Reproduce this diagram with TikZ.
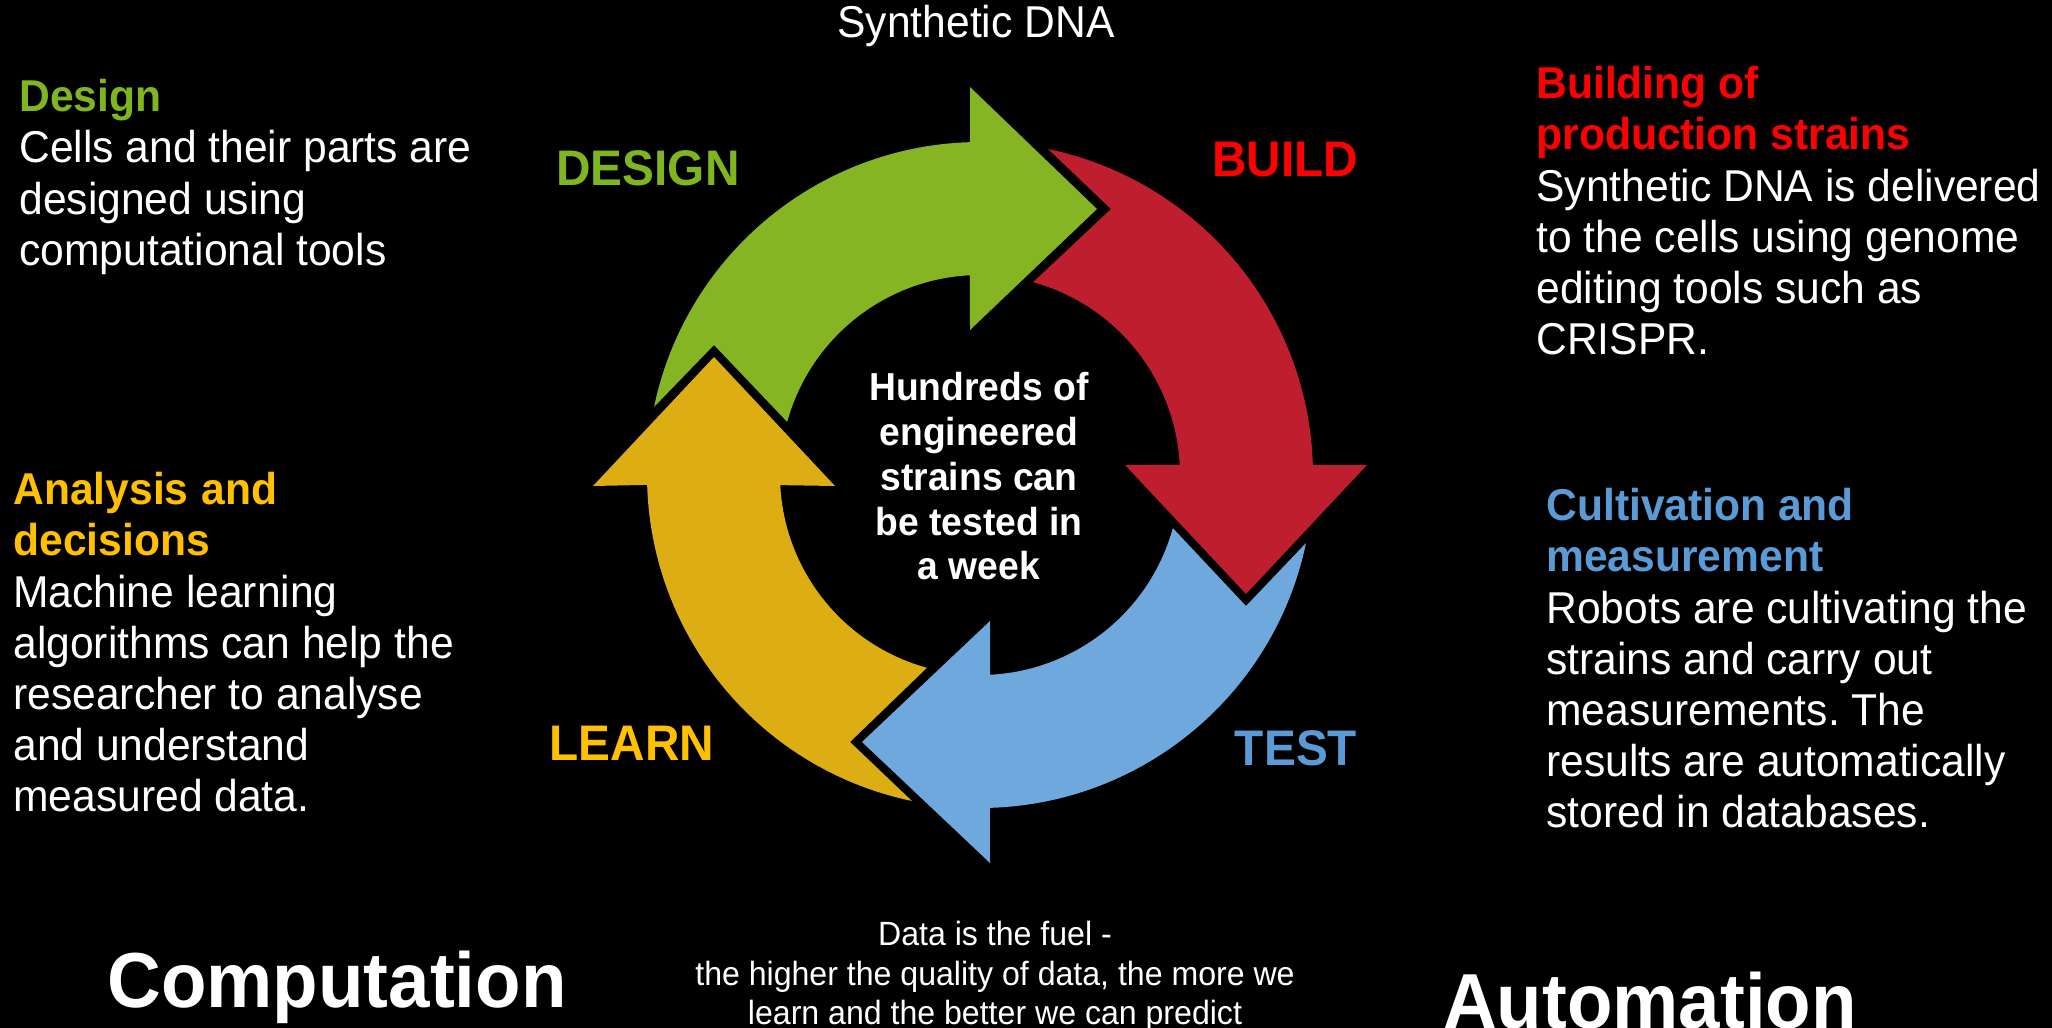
\documentclass[tikz,border=0pt]{standalone}
\usepackage{fontspec}
\setmainfont[FakeStretch=0.955]{Liberation Sans}
\definecolor{cgreen}{HTML}{85B522}
\definecolor{cred}{HTML}{BE1E2D}
\definecolor{cblue}{HTML}{6FA8DC}
\definecolor{cyellow}{HTML}{DDAE14}
\definecolor{tgreen}{HTML}{7FB51F}
\definecolor{tred}{HTML}{FF0000}
\definecolor{tblue}{HTML}{5B9BD5}
\definecolor{tyellow}{HTML}{FFC000}
\tikzset{
  body/.style={inner sep=0pt,anchor=north west,align=left,text=white,font=\fontsize{22.3}{25.6}\selectfont},
  cyc/.style={inner sep=0pt,anchor=center,font=\fontsize{25}{29}\selectfont\bfseries},
  big/.style={inner sep=0pt,anchor=center,text=white,font=\fontsize{39}{45}\selectfont\bfseries},
  mid/.style={inner sep=0pt,anchor=north,align=center,text=white}
}
\newcommand{\hd}[2]{{\color{#1}\bfseries #2}}
\begin{document}
\frenchspacing
\begin{tikzpicture}[x=0.5pt,y=-0.5pt]
\useasboundingbox (0,0) rectangle (2052,1028);
\clip (0,0) rectangle (2052,1028);
\fill[black] (0,0) rectangle (2052,1028);
\coordinate (c) at (980,475);
% arrows
\fill[cgreen] ([shift={(c)}]168.2:166.5pt) arc[start angle=168.2,end angle=91.7,radius=166.5pt]
  -- (970,87) -- (1097,209) -- (970,330) -- ([shift={(c)}]92.9:100pt)
  arc[start angle=92.9,end angle=164.6,radius=100pt] -- (714,345) -- cycle;
\fill[cred] ([shift={(c)}]78.2:166.5pt) arc[start angle=78.2,end angle=1.7,radius=166.5pt]
  -- (1367,465) -- (1246,594) -- (1125,465) -- ([shift={(c)}]2.9:100pt)
  arc[start angle=2.9,end angle=74.6,radius=100pt] -- (1111,209) -- cycle;
\fill[cblue] ([shift={(c)}]-11.8:166.5pt) arc[start angle=-11.8,end angle=-88.3,radius=166.5pt]
  -- (990,863) -- (862,742) -- (990,621) -- ([shift={(c)}]-87.1:100pt)
  arc[start angle=-87.1,end angle=-15.4,radius=100pt] -- (1246,606) -- cycle;
\fill[cyellow] ([shift={(c)}]-101.8:166.5pt) arc[start angle=-101.8,end angle=-178.3,radius=166.5pt]
  -- (593,486) -- (714,357) -- (835,486) -- ([shift={(c)}]-177.1:100pt)
  arc[start angle=-177.1,end angle=-105.4,radius=100pt] -- (850,742) -- cycle;
% cycle labels
\node[cyc,text=tgreen] (ldesign) at (648,168) {DESIGN};
\node[cyc,text=tred] (lbuild) at (1285,160) {BUILD};
\node[cyc,text=tblue] (ltest) at (1296,748) {TEST};
\node[cyc,text=tyellow] (llearn) at (632,743) {LEARN};
% top
\node[inner sep=0pt,text=white,font=\fontsize{22.3}{25}\selectfont] (top) at (976,26) {Synthetic DNA};
% side texts
\node[body] (design) at (19,79) {\hd{tgreen}{Design}\\Cells and their parts are\\designed using\\computational tools};
\node[body] (build) at (1536,66) {\hd{tred}{Building of}\\\hd{tred}{production strains}\\Synthetic DNA is delivered\\to the cells using genome\\editing tools such as\\CRISPR.};
\node[body] (cult) at (1546,488) {\hd{tblue}{Cultivation and}\\\hd{tblue}{measurement}\\Robots are cultivating the\\strains and carry out\\measurements. The\\results are automatically\\stored in databases.};
\node[body] (anal) at (13,472) {\hd{tyellow}{Analysis \hspace{0.7pt}and}\\\hd{tyellow}{decisions}\\Machine learning\\algorithms can help the\\researcher to analyse\\and understand\\measured data.};
% centre
\node[mid,font=\fontsize{19.5}{22.4}\selectfont\bfseries] (centre) at (979,372) {Hundreds of\\engineered\\strains can\\be tested in\\a week};
% bottom
\node[mid,font=\fontsize{16.8}{19.65}\selectfont] (data) at (995,921) {Data is the fuel -\\the higher the quality of data, the more we\\learn and the better we can predict};
\node[big] (comp) at (337,987) {Computation};
\node[big] (auto) at (1650,1001) {Automation};
\end{tikzpicture}
\end{document}
